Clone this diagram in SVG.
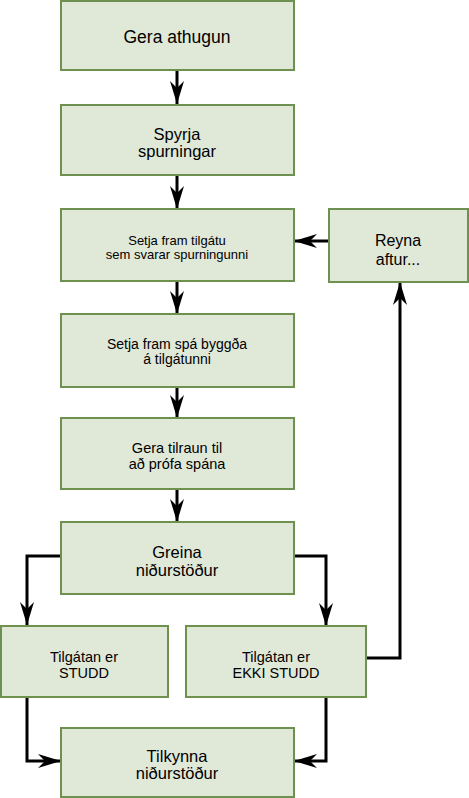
<svg xmlns="http://www.w3.org/2000/svg" width="469" height="798" viewBox="0 0 469 798">
<defs>
<marker id="arr" markerUnits="userSpaceOnUse" markerWidth="26" markerHeight="16" viewBox="-24 -8 26 16" refX="0" refY="0" orient="auto">
<path d="M0,0 L-23,-7 L-16,0 L-23,7 Z" fill="#000"/>
</marker>
</defs>
<style>
.b{fill:#e0e8d8;stroke:#6e9150;stroke-width:2}
.t{font-family:"Liberation Sans",Arial,sans-serif;fill:#000;text-anchor:middle}
.c{fill:none;stroke:#000;stroke-width:3;marker-end:url(#arr)}
</style>
<g id="connectors">
<path class="c" d="M177,70 V104"/>
<path class="c" d="M177,175 V209"/>
<path class="c" d="M177,281 V314"/>
<path class="c" d="M177,387 V418"/>
<path class="c" d="M177,489 V522"/>
<path class="c" d="M329,241 H294"/>
<path class="c" d="M61,556 H27 V625"/>
<path class="c" d="M294,556 H326 V626"/>
<path class="c" d="M27,697 V761 H61"/>
<path class="c" d="M326,697 V761 H294"/>
<path class="c" d="M366,658 H400 V282"/>
</g>
<g id="n1"><rect class="b" x="61" y="1" width="233" height="69"/><text class="t" x="177" y="43" font-size="17.5">Gera athugun</text></g>
<g id="n2"><rect class="b" x="61" y="105" width="233" height="70"/><text class="t" x="177" y="139.5" font-size="16.5">Spyrja</text><text class="t" x="177" y="157" font-size="16.5">spurningar</text></g>
<g id="n3"><rect class="b" x="61" y="209" width="233" height="72"/><text class="t" x="177" y="245" font-size="13">Setja fram tilgátu</text><text class="t" x="177" y="259" font-size="13">sem svarar spurningunni</text></g>
<g id="n4"><rect class="b" x="329" y="209" width="139" height="73"/><text class="t" x="398" y="246" font-size="16">Reyna</text><text class="t" x="398" y="264.5" font-size="16">aftur...</text></g>
<g id="n5"><rect class="b" x="61" y="314" width="233" height="73"/><text class="t" x="177" y="348.5" font-size="14">Setja fram spá byggða</text><text class="t" x="177" y="364" font-size="14">á tilgátunni</text></g>
<g id="n6"><rect class="b" x="61" y="418" width="233" height="71"/><text class="t" x="177" y="453" font-size="14.5">Gera tilraun til</text><text class="t" x="177" y="469" font-size="14.5">að prófa spána</text></g>
<g id="n7"><rect class="b" x="61" y="522" width="233" height="72"/><text class="t" x="177" y="558" font-size="16.5">Greina</text><text class="t" x="177" y="575.5" font-size="16.5">niðurstöður</text></g>
<g id="n8"><rect class="b" x="1" y="626" width="167" height="71"/><text class="t" x="84" y="661.5" font-size="14.5">Tilgátan er</text><text class="t" x="84" y="677.5" font-size="14.5">STUDD</text></g>
<g id="n9"><rect class="b" x="186" y="626" width="180" height="71"/><text class="t" x="276" y="661.5" font-size="14.5">Tilgátan er</text><text class="t" x="276" y="677.5" font-size="14.5">EKKI STUDD</text></g>
<g id="n10"><rect class="b" x="61" y="728" width="233" height="69"/><text class="t" x="177" y="761.5" font-size="16.5">Tilkynna</text><text class="t" x="177" y="779" font-size="16.5">niðurstöður</text></g>
</svg>
